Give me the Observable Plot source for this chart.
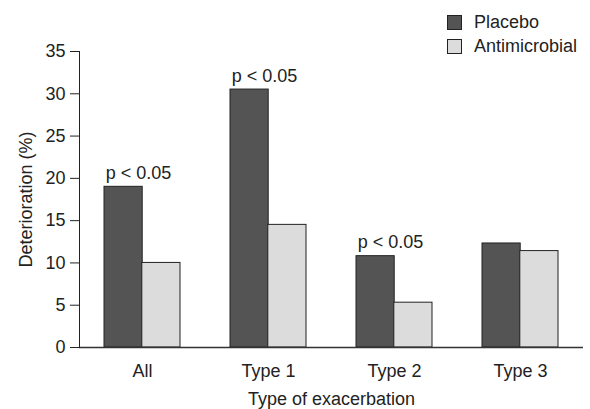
<!DOCTYPE html>
<html>
<head>
<meta charset="utf-8">
<script src="https://cdn.jsdelivr.net/npm/d3@7"></script>
<script src="https://cdn.jsdelivr.net/npm/@observablehq/plot@0.6"></script>
<style>
  html, body { margin: 0; padding: 0; background: #fff; }
  #wrap { position: relative; width: 590px; height: 409px; font-family: "Liberation Sans", Arial, Helvetica, sans-serif; }
  #legend { position: absolute; left: 447px; top: 11px; font-size: 18px; color: #222; }
  .row { display: flex; align-items: center; height: 23.5px; }
  .sw { width: 13px; height: 13px; border: 1px solid #222; margin-right: 12px; box-sizing: content-box; }
</style>
</head>
<body>
<div id="wrap"><div id="legend"></div></div>
<script>
const categories = ["All", "Type 1", "Type 2", "Type 3"];
const series = ["Placebo", "Antimicrobial"];
const placebo = [19.0, 30.5, 10.8, 12.3];
const antimicrobial = [10.0, 14.5, 5.3, 11.4];
const significant = ["All", "Type 1", "Type 2"];
const pLabel = "p < 0.05";
const yTicks = [0, 5, 10, 15, 20, 25, 30, 35];
const colors = ["#545454", "#dcdcdc"];

const W = 590, H = 409, mL = 79, mR = 7, mT = 51, mB = 62;
const padI = 0.4, padO = 0.2;
const step = (W - mL - mR) / (categories.length - padI + 2 * padO);
const half = step * (1 - padI) / 2;

const rows = [];
categories.forEach((c, i) => {
  rows.push({category: c, series: series[0], value: placebo[i]});
  rows.push({category: c, series: series[1], value: antimicrobial[i]});
});
const pRows = rows.filter(d => d.series === series[0] && significant.includes(d.category));

const chart = Plot.plot({
  width: W, height: H,
  marginLeft: mL, marginRight: mR, marginTop: mT, marginBottom: mB,
  style: {fontFamily: '"Liberation Sans", Arial, Helvetica, sans-serif', fontSize: "18px", color: "#222", background: "#fff"},
  x: {domain: categories, paddingInner: padI, paddingOuter: padO, label: null},
  y: {domain: [0, 35], label: null},
  color: {domain: series, range: colors},
  marks: [
    Plot.barY(rows.filter(d => d.series === series[0]), {x: "category", y: "value", fill: "series", stroke: "#222", strokeWidth: 1, insetLeft: 0, insetRight: half}),
    Plot.barY(rows.filter(d => d.series === series[1]), {x: "category", y: "value", fill: "series", stroke: "#222", strokeWidth: 1, insetLeft: half, insetRight: 0}),
    Plot.text(pRows, {x: "category", y: "value", text: () => pLabel, textAnchor: "start", lineAnchor: "bottom", dx: -half + 1, dy: -8, fontSize: 18, fill: "#222"}),
    Plot.ruleY([0], {stroke: "#333", strokeWidth: 1.3}),
    Plot.frame({anchor: "left", stroke: "#222"}),
    Plot.axisY({ticks: yTicks, tickSize: 9, tickPadding: 5, fontSize: 18, label: "Deterioration (%)", labelAnchor: "center", labelArrow: "none", labelOffset: 60}),
    Plot.axisX({tickSize: 0, tickPadding: 17, fontSize: 18, label: "Type of exacerbation", labelAnchor: "center", labelArrow: "none", labelOffset: 57})
  ]
});
document.getElementById("wrap").prepend(chart);

const legend = document.getElementById("legend");
series.forEach((s, i) => {
  const r = document.createElement("div");
  r.className = "row";
  const sw = document.createElement("div");
  sw.className = "sw";
  sw.style.background = colors[i];
  const t = document.createElement("span");
  t.textContent = s;
  r.append(sw, t);
  legend.append(r);
});
</script>
</body>
</html>
